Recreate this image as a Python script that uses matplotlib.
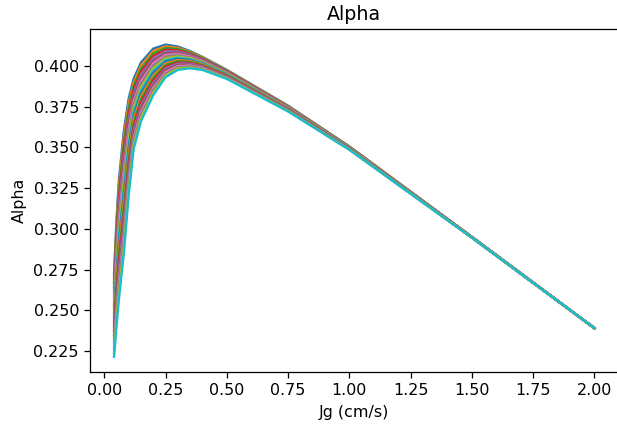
import matplotlib
matplotlib.use("Agg")
import matplotlib.pyplot as plt

jg = [0.04, 0.05, 0.06, 0.08, 0.10, 0.12, 0.15, 0.20, 0.25, 0.30, 0.35, 0.40, 0.50, 0.75, 1.00, 1.50, 2.00]

alpha_01 = [.2720, .3050, .3300, .3600, .3800, .3920, .4020, .4105, .4130, .4118, .4090, .4055, .3975, .3755, .3505, .2950, .2390]
alpha_02 = [.2693, .3016, .3262, .3561, .3769, .3897, .4001, .4090, .4119, .4110, .4084, .4051, .3972, .3753, .3504, .2950, .2390]
alpha_03 = [.2667, .2982, .3223, .3521, .3738, .3875, .3982, .4075, .4109, .4103, .4079, .4047, .3969, .3751, .3503, .2949, .2390]
alpha_04 = [.2640, .2947, .3185, .3482, .3707, .3852, .3963, .4060, .4098, .4095, .4073, .4042, .3966, .3749, .3502, .2949, .2390]
alpha_05 = [.2614, .2913, .3146, .3442, .3676, .3829, .3944, .4045, .4088, .4088, .4068, .4038, .3963, .3748, .3501, .2949, .2390]
alpha_06 = [.2587, .2879, .3108, .3403, .3645, .3807, .3925, .4030, .4077, .4080, .4062, .4034, .3961, .3746, .3500, .2949, .2390]
alpha_07 = [.2561, .2845, .3069, .3363, .3614, .3784, .3906, .4015, .4067, .4073, .4057, .4030, .3958, .3744, .3499, .2948, .2390]
alpha_08 = [.2534, .2811, .3031, .3324, .3583, .3762, .3887, .4000, .4056, .4065, .4051, .4026, .3955, .3742, .3498, .2948, .2390]
alpha_09 = [.2507, .2776, .2993, .3284, .3552, .3739, .3868, .3985, .4046, .4058, .4046, .4021, .3952, .3740, .3497, .2948, .2390]
alpha_10 = [.2481, .2742, .2954, .3245, .3521, .3716, .3849, .3970, .4035, .4050, .4040, .4017, .3949, .3738, .3496, .2948, .2390]
alpha_11 = [.2454, .2708, .2916, .3205, .3489, .3694, .3831, .3955, .4025, .4043, .4035, .4013, .3946, .3737, .3494, .2947, .2390]
alpha_12 = [.2428, .2674, .2877, .3166, .3458, .3671, .3812, .3940, .4014, .4035, .4029, .4009, .3943, .3735, .3493, .2947, .2390]
alpha_13 = [.2401, .2639, .2839, .3126, .3427, .3648, .3793, .3925, .4004, .4028, .4024, .4004, .3940, .3733, .3492, .2947, .2390]
alpha_14 = [.2375, .2605, .2801, .3087, .3396, .3626, .3774, .3910, .3993, .4020, .4018, .4000, .3937, .3731, .3491, .2947, .2390]
alpha_15 = [.2348, .2571, .2762, .3047, .3365, .3603, .3755, .3895, .3983, .4013, .4013, .3996, .3934, .3729, .3490, .2946, .2390]
alpha_16 = [.2321, .2537, .2724, .3008, .3334, .3581, .3736, .3880, .3972, .4005, .4007, .3992, .3932, .3727, .3489, .2946, .2390]
alpha_17 = [.2295, .2503, .2685, .2968, .3303, .3558, .3717, .3865, .3962, .3998, .4002, .3988, .3929, .3726, .3488, .2946, .2390]
alpha_18 = [.2268, .2468, .2647, .2929, .3272, .3535, .3698, .3850, .3951, .3990, .3996, .3983, .3926, .3724, .3487, .2946, .2390]
alpha_19 = [.2242, .2434, .2608, .2889, .3241, .3513, .3679, .3835, .3941, .3983, .3990, .3979, .3923, .3722, .3486, .2945, .2390]
alpha_20 = [.2215, .2400, .2570, .2850, .3210, .3490, .3660, .3820, .3930, .3975, .3985, .3975, .3920, .3720, .3485, .2945, .2390]

series = [alpha_01, alpha_02, alpha_03, alpha_04, alpha_05, alpha_06, alpha_07,
          alpha_08, alpha_09, alpha_10, alpha_11, alpha_12, alpha_13, alpha_14,
          alpha_15, alpha_16, alpha_17, alpha_18, alpha_19, alpha_20]

DPI = 114
fig = plt.figure(figsize=(617 / DPI, 428 / DPI), dpi=DPI)
ax = fig.add_axes([90/617, 1 - 372.3/428, 528.5/617, (372.3 - 29)/428])
for s in series:
    ax.plot(jg, s)
ax.set_title("Alpha")
ax.set_xlabel("Jg (cm/s)")
ax.set_ylabel("Alpha")
fig.savefig("out.png", dpi=DPI)
